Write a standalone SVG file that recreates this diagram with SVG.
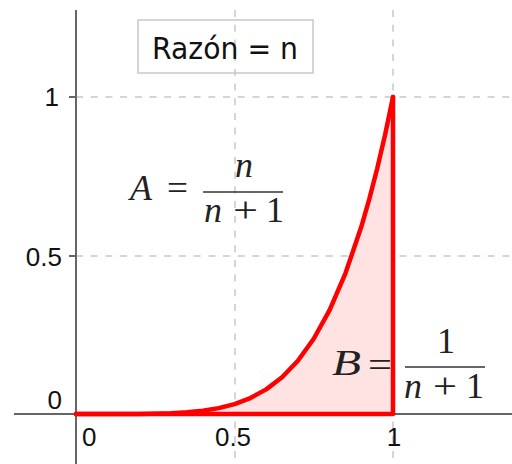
<svg xmlns="http://www.w3.org/2000/svg" width="512" height="464" viewBox="0 0 512 464">
<style>
.grid{stroke:#c8c8c8;stroke-width:1.5;stroke-dasharray:7 7.7;fill:none}
.axis{stroke:#666;stroke-width:2;fill:none}
.tick{font-family:"Liberation Sans",Arial,sans-serif;font-size:26px;fill:#111}
.math{font-family:"Liberation Serif","Times New Roman",serif;fill:#222;font-size:36px}
.it{font-style:italic}
.bar{stroke:#333;stroke-width:1.6}
.red{stroke:#ff0000;stroke-width:4.5;fill:none;stroke-linejoin:round;stroke-linecap:round}
</style>
<rect width="512" height="464" fill="#ffffff"/>
<g id="grid">
<line class="grid" x1="235" y1="10" x2="235" y2="464"/>
<line class="grid" x1="393" y1="10" x2="393" y2="464"/>
<line class="grid" x1="76" y1="97" x2="512" y2="97"/>
<line class="grid" x1="76" y1="256" x2="512" y2="256"/>
</g>
<g id="area">
<path d="M76,414 L107.7,414 L139.4,413.9 L171.1,413.23 L186.95,412.34 L202.8,410.75 L218.65,408.15 L234.5,404.09 L250.35,398.04 L266.2,389.35 L282.05,377.22 L297.9,360.72 L313.75,338.77 L329.6,310.12 L345.45,273.35 L361.3,226.81 L369.2,199.33 L377.15,168.71 L385.1,134.69 L393,97 L393,414 Z" fill="#ffe2e2" stroke="none"/>
</g>
<g id="axes">
<line class="axis" x1="76" y1="10" x2="76" y2="464"/>
<line class="axis" x1="14" y1="414" x2="512" y2="414"/>
<line class="axis" x1="69" y1="97" x2="76" y2="97"/>
<line class="axis" x1="69" y1="256" x2="76" y2="256"/>
</g>
<g id="ticklabels">
<text class="tick" x="59" y="106" text-anchor="end">1</text>
<text class="tick" x="62" y="266" text-anchor="end">0.5</text>
<text class="tick" x="62" y="409" text-anchor="end">0</text>
<text class="tick" x="82" y="446">0</text>
<text class="tick" x="233" y="446" text-anchor="middle">0.5</text>
<text class="tick" x="394" y="446" text-anchor="middle">1</text>
</g>
<g id="curve">
<path class="red" d="M76,414 L107.7,414 L139.4,413.9 L171.1,413.23 L186.95,412.34 L202.8,410.75 L218.65,408.15 L234.5,404.09 L250.35,398.04 L266.2,389.35 L282.05,377.22 L297.9,360.72 L313.75,338.77 L329.6,310.12 L345.45,273.35 L361.3,226.81 L369.2,199.33 L377.15,168.71 L385.1,134.69 L393,97"/>
<path class="red" d="M76,414 L393,414 L393,97"/>
</g>
<g id="label-razon">
<rect x="138" y="20" width="175" height="53" fill="none" stroke="#c8c8c8" stroke-width="1.5"/>
<text x="152" y="59" font-family="'DejaVu Sans',sans-serif" font-size="30" fill="#111" textLength="146" lengthAdjust="spacingAndGlyphs">Razón = n</text>
</g>
<g id="label-A">
<text class="math it" x="130" y="200">A</text>
<text class="math" x="167" y="200" textLength="21" lengthAdjust="spacingAndGlyphs">=</text>
<text class="math it" x="235" y="177">n</text>
<line class="bar" x1="203" y1="192" x2="283" y2="192"/>
<text class="math it" x="204" y="222">n</text>
<text class="math" x="233" y="222" textLength="25" lengthAdjust="spacingAndGlyphs">+</text>
<text class="math" x="266" y="222">1</text>
</g>
<g id="label-B">
<text class="math it" x="332" y="375" textLength="29" lengthAdjust="spacingAndGlyphs">B</text>
<text class="math" x="368" y="377" textLength="24" lengthAdjust="spacingAndGlyphs">=</text>
<text class="math" x="437" y="353">1</text>
<line class="bar" x1="405" y1="367" x2="485" y2="367"/>
<text class="math it" x="404" y="398">n</text>
<text class="math" x="433" y="398" textLength="24" lengthAdjust="spacingAndGlyphs">+</text>
<text class="math" x="466" y="398">1</text>
</g>
</svg>
